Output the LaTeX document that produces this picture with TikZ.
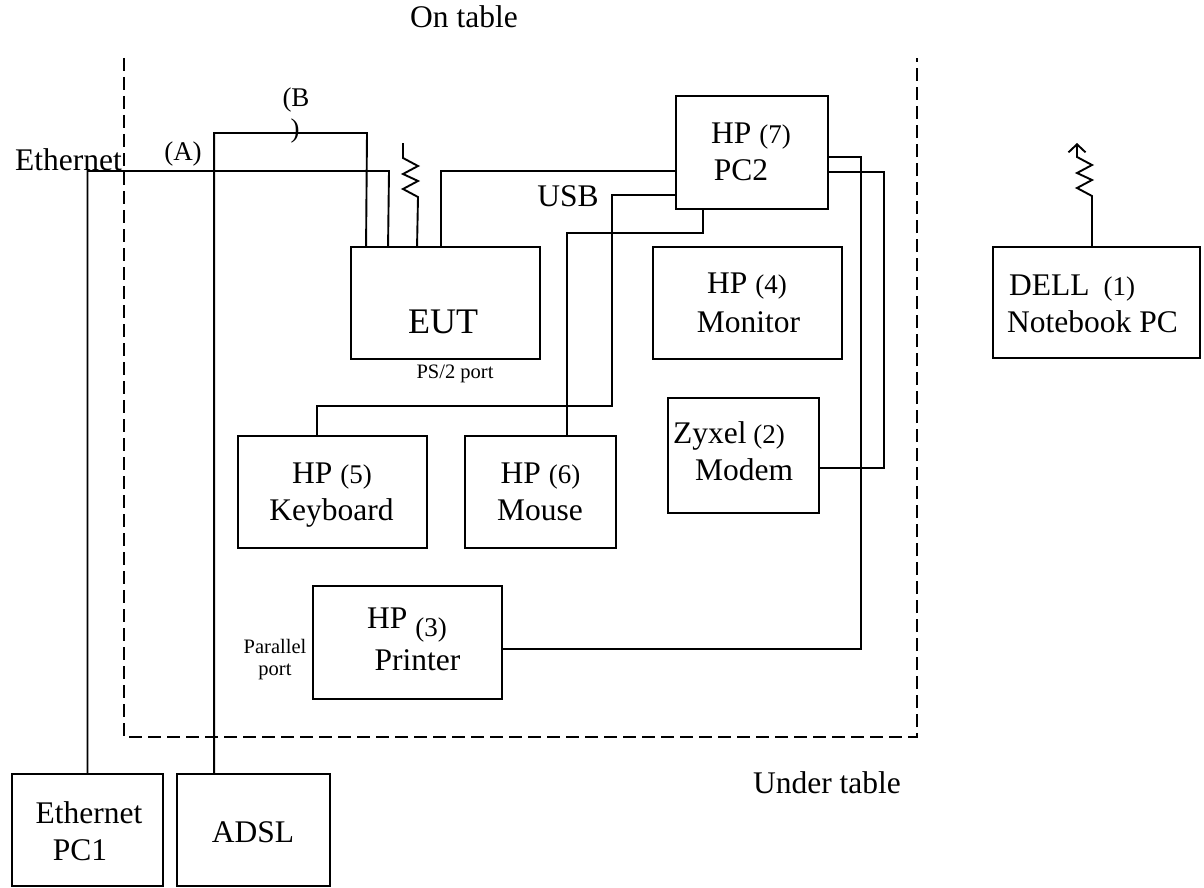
\documentclass[tikz,border=0pt]{standalone}
\usepackage{fontspec}
\setmainfont{Liberation Serif}
\usetikzlibrary{arrows.meta}
\newcommand{\numfnt}{\fontsize{27}{31}\selectfont}
\begin{document}
\begin{tikzpicture}[x=1pt,y=-1pt,
  box/.style 2 args={draw, line width=1.9pt, inner sep=0pt, minimum width=#1pt, minimum height=#2pt},
  wire/.style={line width=1.9pt},
  tablebound/.style={line width=1.8pt, dash pattern=on 13pt off 6pt},
  big/.style={font=\fontsize{31.5}{37}\selectfont, anchor=base, inner sep=0pt},
  bigw/.style={font=\fontsize{31.5}{37}\selectfont, anchor=base west, inner sep=0pt},
  numl/.style={font=\numfnt, anchor=base, inner sep=0pt},
  small/.style={font=\fontsize{20.5}{24}\selectfont, anchor=base, inner sep=0pt},
  huge/.style={font=\fontsize{36}{42}\selectfont, anchor=base, inner sep=0pt}]
\useasboundingbox (0,0) rectangle (1204,888);

% table boundary
\draw[tablebound] (124,58) -- (124,737) -- (917,737) -- (917,58);

% boxes
\node[box={189}{112}] (eut) at (445.5,303) {};
\node[box={152}{113}] (pc2) at (752,152.5) {};
\node[box={189}{112}] (mon) at (747.5,303) {};
\node[box={151}{115}] (modem) at (743.5,455.5) {};
\node[box={189}{112}] (kbd) at (332.5,492) {};
\node[box={151}{112}] (mouse) at (540.5,492) {};
\node[box={189}{113}] (printer) at (407.5,642.5) {};
\node[box={207}{111}] (dell) at (1096.5,302.5) {};
\node[box={151}{112}] (pc1) at (87.5,830) {};
\node[box={153}{112}] (adsl) at (253.5,830) {};

% texts in boxes
\node[huge] (eutT) at (443,333) {EUT};
\node[big] (pc2T1) at (751,143) {HP {\numfnt(7)}};
\node[big] (pc2T2) at (741,180) {PC2};
\node[big] (monT1) at (747,293) {HP {\numfnt(4)}};
\node[big] (monT2) at (748.5,332) {Monitor};
\node[big] (modemT1) at (729,443) {Zyxel{\numfnt\ (2)}};
\node[big] (modemT2) at (744,480) {Modem};
\node[big] (kbdT1) at (332,483) {HP {\numfnt(5)}};
\node[big] (kbdT2) at (331.5,520) {Keyboard};
\node[big] (mouseT1) at (540.5,483) {HP {\numfnt(6)}};
\node[big] (mouseT2) at (540,520) {Mouse};
\node[bigw] (prT1) at (367,628) {HP\ \raisebox{-8pt}{\numfnt(3)}};
\node[big] (prT2) at (417.5,670) {Printer};
\node[bigw] (dellT1) at (1009,295) {DELL\hspace{14pt}{\numfnt(1)}};
\node[bigw] (dellT2) at (1007,332) {Notebook PC};
\node[big] (pc1T1) at (89,823) {Ethernet};
\node[big] (pc1T2) at (80,860) {PC1};
\node[big] (adslT) at (253,842) {ADSL};

% free labels
\node[big] (ontable) at (464,28) {On table};
\node[big] (undertable) at (827,793) {Under table};
\node[bigw] (ethlbl) at (15,170) {Ethernet};
\node[numl] (lblA) at (183,160) {(A)};
\node[numl] (lblB1) at (296,107) {(B};
\node[numl] (lblB2) at (295,138) {)};
\node[big] (usb) at (568,206) {USB};
\node[small] (ps2) at (455,378) {PS/2 port};
\node[small] (par1) at (275,653) {Parallel};
\node[small] (par2) at (275,675) {port};

% connectors
\draw[wire] (pc1.north) |- (389,171) -- ([xshift=38pt]eut.north west);
\draw[wire] ([xshift=38pt]adsl.north west) |- (367,133) -- ([xshift=16pt]eut.north west);
\draw[wire] ([xshift=91pt]eut.north west) |- (pc2.west |- 0,171);
\draw[wire] (pc2.west |- 0,195) -| (612,406) -| (kbd.north -| 317,0);
\draw[wire] (pc2.south -| 703,0) |- (567,233) -- (mouse.north -| 567,0);
\draw[wire] (pc2.east |- 0,157) -| (861,649) -- (printer.east |- 0,649);
\draw[wire] (pc2.east |- 0,172) -| (884,468) -- (modem.east |- 0,468);

% antennas
\draw[wire] ([xshift=67pt]eut.north west) -- (418,197) -- (403,189) -- (418,181) -- (403,174) -- (418,166) -- (403,158) -- (403,143);
\draw[wire, -{Straight Barb[length=8pt,width=17pt]}] (dell.north -| 1092,0) -- (1092,196) -- (1077,188) -- (1092,180) -- (1077,173) -- (1092,165) -- (1077,157) -- (1077,143);
\end{tikzpicture}
\end{document}
